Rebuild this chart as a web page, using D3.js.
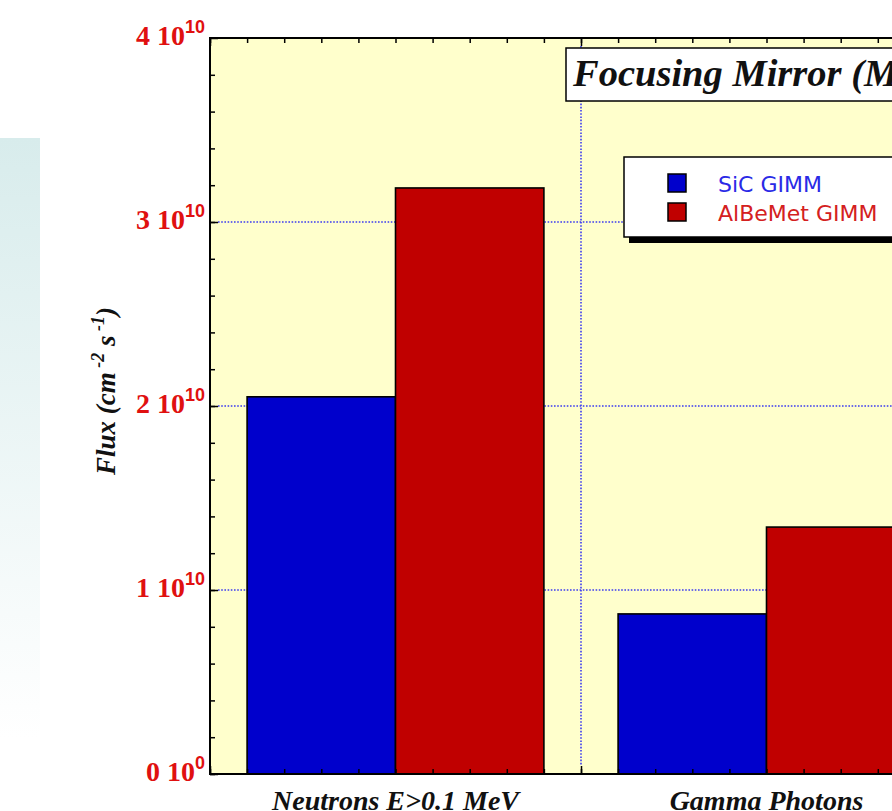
<!DOCTYPE html>
<html>
<head>
<meta charset="utf-8">
<script src="https://cdn.jsdelivr.net/npm/d3@7"></script>
<style>
  body { margin: 0; background: #fff; overflow: hidden; }
  svg { display: block; }
</style>
</head>
<body>
<script>
'use strict';

//data
var categories = ['Neutrons E>0.1 MeV', 'Gamma Photons'];
var series = ['SiC GIMM', 'AlBeMet GIMM'];
var sicValues = [2.05e10, 0.87e10];
var albemetValues = [3.185e10, 1.342e10];
var yTicks = [0, 1e10, 2e10, 3e10, 4e10];
var yTickMantissa = ['0', '1', '2', '3', '4'];
var yTickExponent = ['0', '10', '10', '10', '10'];
var chartTitle = 'Focusing Mirror (M1)';

var colors = { 'SiC GIMM': '#0000cc', 'AlBeMet GIMM': '#c00000' };
var textColors = { 'SiC GIMM': '#2a2ae6', 'AlBeMet GIMM': '#d42020' };

//general setup
var width = 892, height = 811;
var plotLeft = 210, plotTop = 38, plotBottom = 774, plotRight = 952;

var svg = d3.select('body').append('svg').attr('width', width).attr('height', height);

//faint slide panel on the left
var grad = svg.append('defs').append('linearGradient').attr('id', 'panel')
  .attr('x1', 0).attr('y1', 0).attr('x2', 0).attr('y2', 1);
grad.append('stop').attr('offset', '0%').attr('stop-color', '#d8ecec');
grad.append('stop').attr('offset', '100%').attr('stop-color', '#ffffff');
svg.append('rect').attr('x', 0).attr('y', 138).attr('width', 40).attr('height', 600).attr('fill', 'url(#panel)');

//scales
var xScale = d3.scaleBand().domain(categories).range([plotLeft, plotRight]);
var xSub = d3.scaleBand().domain(series).range([0, xScale.bandwidth()]).paddingOuter(0.25).paddingInner(0);
var xUnit = d3.scaleLinear().domain([0, categories.length]).range([plotLeft, plotRight]);
var yScale = d3.scaleLinear().domain([0, 4e10]).range([plotBottom, plotTop]);

//plot background
svg.append('rect').attr('x', plotLeft).attr('y', plotTop).attr('width', plotRight - plotLeft).attr('height', plotBottom - plotTop)
  .attr('fill', '#ffffcc');

//grid
var grid = svg.append('g').attr('stroke', '#3c3cf0').attr('stroke-width', 1.6).attr('stroke-dasharray', '1.6,1.6');
grid.selectAll('.hg').data(yTicks.slice(1, -1)).enter().append('line')
  .attr('x1', plotLeft + 8).attr('x2', plotRight).attr('y1', function (d) { return yScale(d); }).attr('y2', function (d) { return yScale(d); });
grid.selectAll('.vg').data(d3.range(1, categories.length)).enter().append('line')
  .attr('y1', plotTop + 8).attr('y2', plotBottom - 8).attr('x1', function (d) { return xUnit(d); }).attr('x2', function (d) { return xUnit(d); });

//bars
var table = categories.map(function (c, i) {
  return { cat: c, values: [{ s: series[0], v: sicValues[i] }, { s: series[1], v: albemetValues[i] }] };
});
var group = svg.selectAll('.grp').data(table).enter().append('g')
  .attr('transform', function (d) { return 'translate(' + xScale(d.cat) + ',0)'; });
group.selectAll('rect').data(function (d) { return d.values; }).enter().append('rect')
  .attr('x', function (d) { return xSub(d.s); })
  .attr('width', xSub.bandwidth())
  .attr('y', function (d) { return yScale(d.v); })
  .attr('height', function (d) { return plotBottom - yScale(d.v); })
  .attr('fill', function (d) { return colors[d.s]; })
  .attr('stroke', '#000').attr('stroke-width', 1.6);

//ticks
function tickAxis(axis, size, values, transform) {
  var g = svg.append('g').attr('transform', transform)
    .call(axis.tickValues(values).tickSize(size).tickFormat(''));
  g.select('.domain').remove();
  g.selectAll('line').attr('stroke', '#000').attr('stroke-width', 1.5);
}
var minorX = d3.range(0, 20).map(function (i) { return i / 10; });
tickAxis(d3.axisLeft(yScale), -5, d3.range(0, 4e10, 2e9), 'translate(' + plotLeft + ',0)');
tickAxis(d3.axisLeft(yScale), -8, yTicks, 'translate(' + plotLeft + ',0)');
tickAxis(d3.axisTop(xUnit), -5, minorX, 'translate(0,' + plotTop + ')');
tickAxis(d3.axisBottom(xUnit), -5, minorX, 'translate(0,' + plotBottom + ')');
tickAxis(d3.axisTop(xUnit), -8, d3.range(0, categories.length + 1), 'translate(0,' + plotTop + ')');
tickAxis(d3.axisBottom(xUnit), -8, d3.range(0, categories.length + 1), 'translate(0,' + plotBottom + ')');

//frame
svg.append('path').attr('d', 'M' + plotRight + ',' + plotTop + 'H' + plotLeft + 'V' + plotBottom + 'H' + plotRight)
  .attr('fill', 'none').attr('stroke', '#000').attr('stroke-width', 2);

//y tick labels
var yl = svg.selectAll('.ylab').data(yTicks).enter().append('text')
  .attr('x', plotLeft - 5).attr('y', function (d) { return yScale(d) + 7; })
  .attr('text-anchor', 'end').attr('fill', '#e01010')
  .style('font-family', '"Liberation Serif", serif').style('font-weight', 'bold').style('font-size', '28px');
yl.append('tspan').text(function (d, i) { return yTickMantissa[i] + ' 10'; });
yl.append('tspan').attr('dy', -12).style('font-size', '18px')
  .style('font-family', '"Liberation Sans", sans-serif')
  .text(function (d, i) { return yTickExponent[i]; });

//y axis title
var yt = svg.append('text').attr('transform', 'translate(115,391) rotate(-90)').attr('text-anchor', 'middle')
  .style('font-family', '"Liberation Serif", serif').style('font-weight', 'bold').style('font-style', 'italic')
  .style('font-size', '27px').attr('fill', '#111');
yt.append('tspan').text('Flux (cm');
yt.append('tspan').attr('dy', -11).style('font-size', '18px').text(' -2');
yt.append('tspan').attr('dy', 11).text(' s');
yt.append('tspan').attr('dy', -11).style('font-size', '18px').text(' -1');
yt.append('tspan').attr('dy', 11).text(')');

//x labels
svg.selectAll('.xlab').data(categories).enter().append('text')
  .attr('x', function (d) { return xScale(d) + xScale.bandwidth() / 2; }).attr('y', 810)
  .attr('text-anchor', 'middle').attr('fill', '#111')
  .style('font-family', '"Liberation Serif", serif').style('font-weight', 'bold').style('font-style', 'italic')
  .style('font-size', '28px').text(function (d) { return d; });

//title box
svg.append('rect').attr('x', 566).attr('y', 48).attr('width', 400).attr('height', 53)
  .attr('fill', '#fff').attr('stroke', '#000').attr('stroke-width', 1.5);
svg.append('text').attr('x', 573).attr('y', 86).attr('fill', '#111')
  .style('font-family', '"Liberation Serif", serif').style('font-weight', 'bold').style('font-style', 'italic')
  .style('font-size', '38.5px').text(chartTitle);

//legend
var legX = 624, legY = 157;
var legend = svg.append('g');
legend.append('rect').attr('x', legX + 5).attr('y', legY + 6).attr('width', 320).attr('height', 80).attr('fill', '#000');
legend.append('rect').attr('x', legX).attr('y', legY).attr('width', 320).attr('height', 80)
  .attr('fill', '#fff').attr('stroke', '#000').attr('stroke-width', 1.5);
legend.selectAll('.sw').data(series).enter().append('rect')
  .attr('x', legX + 44).attr('y', function (d, i) { return legY + 17 + 29 * i; })
  .attr('width', 18).attr('height', 18)
  .attr('fill', function (d) { return colors[d]; }).attr('stroke', '#000').attr('stroke-width', 1.5);
legend.selectAll('.lt').data(series).enter().append('text')
  .attr('x', legX + 94).attr('y', function (d, i) { return legY + 35 + 29 * i; })
  .attr('fill', function (d) { return textColors[d]; })
  .style('font-family', '"DejaVu Sans", sans-serif').style('font-size', '22px')
  .text(function (d) { return d; });
</script>
</body>
</html>
